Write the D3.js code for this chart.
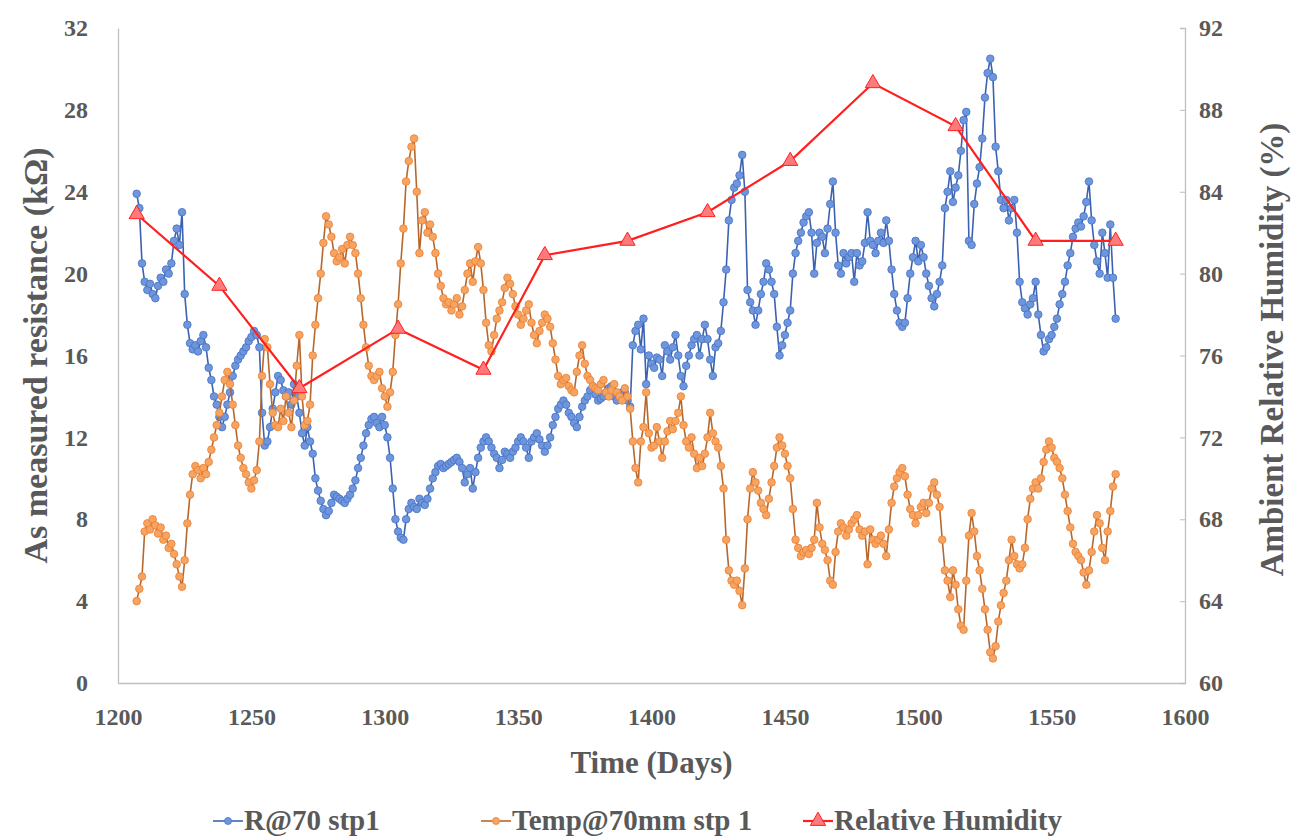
<!DOCTYPE html>
<html>
<head>
    <title>Resistance, temperature and humidity</title>
    <script src="https://d3js.org/d3.v7.min.js"></script>
    <style>
        body { margin: 0; background: #fff; }
        text { font-family: "Liberation Serif", "Times New Roman", serif; font-weight: bold; fill: #595959; }
    </style>
</head>
<body>
<script>
// daily readings, first day of both series
var startDay = 1207;

var resistance = [
    23.9, 23.2, 20.5, 19.6, 19.2, 19.5, 19.0, 18.8, 19.4, 19.8,
    19.6, 20.2, 20.0, 20.5, 21.6, 22.2, 21.4, 23.0, 19.0, 17.5,
    16.6, 16.3, 16.5, 16.2, 16.7, 17.0, 16.4, 15.4, 14.8, 14.0,
    13.6, 13.0, 12.5, 13.0, 13.6, 14.2, 15.0, 15.5, 15.8, 16.0,
    16.2, 16.4, 16.7, 16.9, 17.2, 17.0, 16.4, 13.2, 11.6, 11.8,
    12.5, 13.4, 14.2, 15.0, 14.8, 14.3, 14.0, 14.2, 13.6, 14.6,
    14.0, 13.2, 12.2, 11.6, 12.5, 11.8, 11.2, 10.0, 9.4, 8.9,
    8.5, 8.2, 8.4, 8.8, 9.2, 9.1, 9.0, 8.9, 8.8, 9.0,
    9.2, 9.5, 9.9, 10.5, 11.0, 11.6, 12.2, 12.6, 12.9, 13.0,
    12.7, 12.5, 13.0, 12.6, 12.0, 11.0, 9.5, 8.0, 7.4, 7.1,
    7.0, 8.0, 8.5, 8.8, 8.6, 8.5, 9.0, 8.8, 8.7, 9.0,
    9.5, 10.0, 10.3, 10.6, 10.7, 10.5, 10.6, 10.7, 10.8, 10.9,
    11.0, 10.8, 10.5, 9.8, 10.2, 10.5, 9.5, 10.3, 11.0, 11.5,
    11.8, 12.0, 11.8, 11.5, 11.2, 11.0, 10.5, 10.9, 11.3, 11.2,
    11.0, 11.3, 11.5, 11.8, 12.0, 11.8, 11.5, 11.0, 11.8, 12.0,
    12.2, 11.9, 11.6, 11.3, 11.6, 12.0, 12.6, 13.0, 13.4, 13.6,
    13.8, 13.6, 13.2, 13.0, 12.7, 12.5, 13.0, 13.5, 13.8, 14.0,
    14.3, 14.5, 14.1, 13.8, 13.9, 14.0, 14.2, 14.4, 14.5, 14.0,
    13.8, 14.0, 14.2, 14.2, 13.8, 13.5, 16.5, 17.2, 17.5, 16.3,
    17.8, 14.6, 16.0, 15.6, 15.4, 15.9, 15.8, 15.0, 16.5, 16.2,
    15.8, 16.4, 17.0, 16.0, 15.0, 14.5, 15.5, 16.0, 16.5, 16.8,
    17.0, 16.0, 16.8, 17.5, 16.8, 15.8, 15.0, 16.4, 16.6, 17.2,
    18.6, 20.2, 22.6, 23.6, 24.2, 24.4, 24.8, 25.8, 24.0, 19.2,
    18.6, 18.2, 17.5, 18.2, 19.0, 19.6, 20.5, 20.2, 19.6, 19.0,
    17.4, 16.0, 16.5, 17.0, 17.6, 18.2, 20.0, 21.0, 21.6, 22.0,
    22.5, 22.8, 23.0, 22.0, 20.0, 21.5, 22.0, 21.8, 21.0, 22.2,
    23.4, 24.5, 22.0, 20.4, 20.0, 21.0, 20.5, 20.8, 21.0, 19.6,
    21.0, 20.4, 20.6, 21.5, 23.0, 21.6, 21.4, 21.0, 21.6, 22.0,
    21.5, 22.6, 21.6, 20.2, 19.0, 18.2, 17.6, 17.4, 17.6, 18.8,
    20.0, 20.8, 21.6, 20.6, 21.4, 20.8, 20.0, 19.4, 18.8, 18.4,
    19.0, 19.6, 20.4, 23.2, 24.0, 25.0, 23.5, 24.2, 24.8, 26.0,
    27.5, 27.9, 21.6, 21.4, 23.4, 24.4, 25.2, 26.6, 28.6, 29.8,
    30.5, 29.6, 26.2, 25.0, 23.6, 23.2, 23.6, 22.6, 23.2, 23.6,
    22.0, 19.6, 18.6, 18.3, 18.0, 18.5, 18.8, 19.6, 18.0, 17.0,
    16.2, 16.4, 16.8, 17.0, 17.4, 17.8, 18.5, 19.0, 19.6, 20.4,
    21.0, 21.8, 22.2, 22.5, 22.3, 22.8, 23.5, 24.5, 22.6, 21.4,
    20.6, 20.0, 22.0, 21.0, 19.8, 22.4, 19.8, 17.8
];

var temperature = [
    4.0, 4.6, 5.2, 7.4, 7.8, 7.5, 8.0, 7.7, 7.3, 7.6,
    7.0, 7.2, 6.6, 6.8, 6.3, 5.8, 5.2, 4.7, 6.0, 7.8,
    9.2, 10.2, 10.6, 10.4, 10.0, 10.5, 10.2, 10.8, 11.4, 12.0,
    12.6, 13.2, 14.0, 14.8, 15.2, 14.6, 13.6, 12.6, 11.6, 11.0,
    10.5, 10.2, 9.8, 9.5, 9.9, 10.4, 11.8, 15.0, 16.8, 16.4,
    14.6, 13.2, 12.6, 12.5, 13.4, 12.8, 14.0, 13.2, 12.5, 13.8,
    15.5, 17.0, 14.0, 12.6, 12.8, 13.6, 16.0, 17.5, 18.8, 20.0,
    21.5, 22.8, 22.4, 21.8, 21.0, 20.6, 20.8, 21.2, 20.5, 21.4,
    21.8, 21.4, 21.0, 20.0, 18.8, 17.5, 16.4, 15.5, 15.0, 14.8,
    15.0, 15.2, 14.4, 14.0, 13.5, 14.2, 15.2, 17.0, 18.5, 20.5,
    22.2, 24.5, 25.5, 26.2, 26.6, 24.0, 21.0, 22.6, 23.0, 22.0,
    22.4, 21.8, 21.0, 20.0, 19.4, 18.8, 18.5, 18.6, 18.2, 18.5,
    18.8, 18.0, 18.4, 19.2, 20.0, 20.5, 19.6, 20.6, 21.3, 20.5,
    19.2, 17.6, 16.5, 16.2, 17.0, 17.8, 18.2, 18.6, 19.3, 19.8,
    19.5, 19.0, 18.4, 18.0, 17.5, 17.8, 18.2, 18.5, 17.6, 17.0,
    16.6, 17.2, 17.6, 18.0, 17.8, 17.4, 16.6, 15.8, 15.0, 14.6,
    14.8, 14.9, 14.5, 14.3, 14.2, 15.2, 16.0, 16.5, 15.6, 15.0,
    14.8, 14.5, 14.4, 14.3, 14.6, 14.8, 14.2, 14.0, 14.3, 14.6,
    14.2, 14.0, 13.8, 14.4, 14.0, 13.4, 11.8, 10.5, 9.8, 11.8,
    12.5, 14.2, 12.2, 11.5, 11.6, 12.5, 11.8, 11.0, 11.8, 12.3,
    12.8, 12.4, 12.8, 13.2, 14.0, 12.6, 11.8, 11.5, 12.0, 11.2,
    10.5, 11.0, 10.6, 11.2, 12.0, 13.2, 12.2, 11.8, 11.5, 10.6,
    9.5, 7.0, 5.5, 5.0, 4.8, 5.0, 4.5, 3.8, 5.6, 8.0,
    9.5, 10.3, 9.8, 9.4, 8.8, 8.5, 8.2, 9.0, 9.8, 10.6,
    11.5, 12.0, 11.6, 11.2, 10.6, 10.0, 8.5, 7.0, 6.6, 6.2,
    6.4, 6.5, 6.3, 6.6, 7.0, 8.8, 7.6, 6.8, 6.5, 6.0,
    5.0, 4.8, 6.4, 7.4, 7.8, 7.6, 7.2, 7.5, 7.8, 8.0,
    8.2, 7.5, 7.2, 7.4, 5.8, 7.5, 7.0, 6.8, 7.0, 7.2,
    6.8, 6.2, 7.5, 8.8, 9.6, 10.0, 10.3, 10.5, 10.1, 9.2,
    8.5, 8.2, 7.8, 8.2, 8.6, 8.8, 8.3, 8.8, 9.5, 9.8,
    9.2, 8.6, 7.0, 5.5, 5.0, 4.2, 5.5, 4.8, 3.6, 2.8,
    2.6, 5.0, 7.2, 8.3, 7.4, 6.2, 5.5, 4.6, 3.6, 2.6,
    1.5, 1.2, 1.8, 3.0, 3.8, 4.4, 5.0, 6.0, 7.0, 6.2,
    5.8, 5.6, 5.8, 6.6, 8.0, 9.0, 9.5, 9.8, 9.5, 10.0,
    10.8, 11.4, 11.8, 11.5, 11.0, 10.8, 10.5, 10.0, 9.2, 8.4,
    7.6, 6.8, 6.4, 6.2, 6.0, 5.4, 4.8, 5.5, 6.4, 7.4,
    8.2, 7.8, 6.6, 6.0, 7.4, 8.4, 9.6, 10.2
];

var rhDays = [1207, 1238, 1268, 1305, 1337, 1360, 1391, 1421, 1452, 1483, 1514, 1544, 1574];
var rhValues = [82.9, 79.4, 74.4, 77.3, 75.3, 80.9, 81.6, 83.0, 85.5, 89.3, 87.2, 81.6, 81.6];

var xTicks = [1200, 1250, 1300, 1350, 1400, 1450, 1500, 1550, 1600];
var leftTicks = [0, 4, 8, 12, 16, 20, 24, 28, 32];
var rightTicks = [60, 64, 68, 72, 76, 80, 84, 88, 92];

var seriesNames = ["R@70 stp1", "Temp@70mm stp 1", "Relative Humidity"];

var width = 1298, height = 840;
var margin = {top: 28, right: 113, bottom: 157, left: 118};

var svg = d3.select("body").append("svg")
    .attr("width", width)
    .attr("height", height);

var x = d3.scaleLinear().domain([1200, 1600]).range([margin.left, width - margin.right]);
var yL = d3.scaleLinear().domain([0, 32]).range([height - margin.bottom, margin.top]);
var yR = d3.scaleLinear().domain([60, 92]).range([height - margin.bottom, margin.top]);

var axisColor = "#bfbfbf";

// axes
var gx = svg.append("g")
    .attr("transform", "translate(0," + (height - margin.bottom) + ")")
    .call(d3.axisBottom(x).tickValues(xTicks).tickSize(0).tickPadding(25).tickFormat(d3.format("d")));
var gl = svg.append("g")
    .attr("transform", "translate(" + margin.left + ",0)")
    .call(d3.axisLeft(yL).tickValues(leftTicks).tickSize(0).tickPadding(30));
var gr = svg.append("g")
    .attr("transform", "translate(" + (width - margin.right) + ",0)")
    .call(d3.axisRight(yR).tickValues(rightTicks).tickSize(-5).tickPadding(14));

[gx, gl, gr].forEach(function(g) {
    g.select(".domain").attr("stroke", axisColor).attr("stroke-width", 1.3);
    g.selectAll(".tick line").attr("stroke", axisColor);
    g.selectAll(".tick text").style("font-size", "24px").attr("fill", "#595959");
});

// axis titles
svg.append("text")
    .attr("x", (margin.left + width - margin.right) / 2)
    .attr("y", 773)
    .attr("text-anchor", "middle")
    .style("font-size", "31px")
    .text("Time (Days)");

svg.append("text")
    .attr("transform", "translate(47," + ((margin.top + height - margin.bottom) / 2) + ") rotate(-90)")
    .attr("text-anchor", "middle")
    .style("font-size", "34px")
    .text("As measured resistance (k\u03A9)");

svg.append("text")
    .attr("transform", "translate(1283," + ((margin.top + height - margin.bottom) / 2 - 6) + ") rotate(-90)")
    .attr("text-anchor", "middle")
    .style("font-size", "33px")
    .text("Ambient Relative Humidity (%)");

// series
var blue = {line: "#3a62b0", fill: "#6f95dc", stroke: "#4472c4"};
var orange = {line: "#b5672c", fill: "#f5a462", stroke: "#ed7d31"};
var red = {line: "#ff1f1f", fill: "#ff7b7b", stroke: "#ff1f1f"};

function drawDaily(values, yScale, c) {
    var pts = values.map(function(v, i) { return [startDay + i, v]; });
    var line = d3.line()
        .x(function(d) { return x(d[0]); })
        .y(function(d) { return yScale(d[1]); });
    svg.append("path")
        .datum(pts)
        .attr("fill", "none")
        .attr("stroke", c.line)
        .attr("stroke-width", 1.6)
        .attr("d", line);
    svg.append("g").selectAll("circle")
        .data(pts)
        .enter().append("circle")
        .attr("cx", function(d) { return x(d[0]); })
        .attr("cy", function(d) { return yScale(d[1]); })
        .attr("r", 3.8)
        .attr("fill", c.fill)
        .attr("stroke", c.stroke)
        .attr("stroke-width", 0.8);
}

drawDaily(resistance, yL, blue);
drawDaily(temperature, yL, orange);

var rhPts = rhDays.map(function(d, i) { return [d, rhValues[i]]; });
svg.append("path")
    .datum(rhPts)
    .attr("fill", "none")
    .attr("stroke", red.line)
    .attr("stroke-width", 2.2)
    .attr("d", d3.line()
        .x(function(d) { return x(d[0]); })
        .y(function(d) { return yR(d[1]); }));

var tri = d3.symbol().type(d3.symbolTriangle).size(100);
svg.append("g").selectAll("path")
    .data(rhPts)
    .enter().append("path")
    .attr("d", tri)
    .attr("transform", function(d) { return "translate(" + x(d[0]) + "," + yR(d[1]) + ")"; })
    .attr("fill", red.fill)
    .attr("stroke", red.stroke)
    .attr("stroke-width", 1);

// legend
var legendY = 821;
var legendItems = [
    {x: 213, c: blue, shape: "circle"},
    {x: 481, c: orange, shape: "circle"},
    {x: 803, c: red, shape: "triangle"}
];
legendItems.forEach(function(item, i) {
    var g = svg.append("g").attr("transform", "translate(" + item.x + "," + legendY + ")");
    g.append("line")
        .attr("x1", 0).attr("x2", 30)
        .attr("stroke", item.c.line)
        .attr("stroke-width", item.shape == "triangle" ? 2.2 : 1.6);
    if (item.shape == "circle") {
        g.append("circle").attr("cx", 15).attr("r", 3.5)
            .attr("fill", item.c.fill).attr("stroke", item.c.stroke).attr("stroke-width", 0.8);
    } else {
        g.append("path").attr("d", tri).attr("transform", "translate(15,0)")
            .attr("fill", item.c.fill).attr("stroke", item.c.stroke);
    }
    g.append("text")
        .attr("x", 31)
        .attr("y", 9)
        .style("font-size", "29px")
        .text(seriesNames[i]);
});
</script>
</body>
</html>
